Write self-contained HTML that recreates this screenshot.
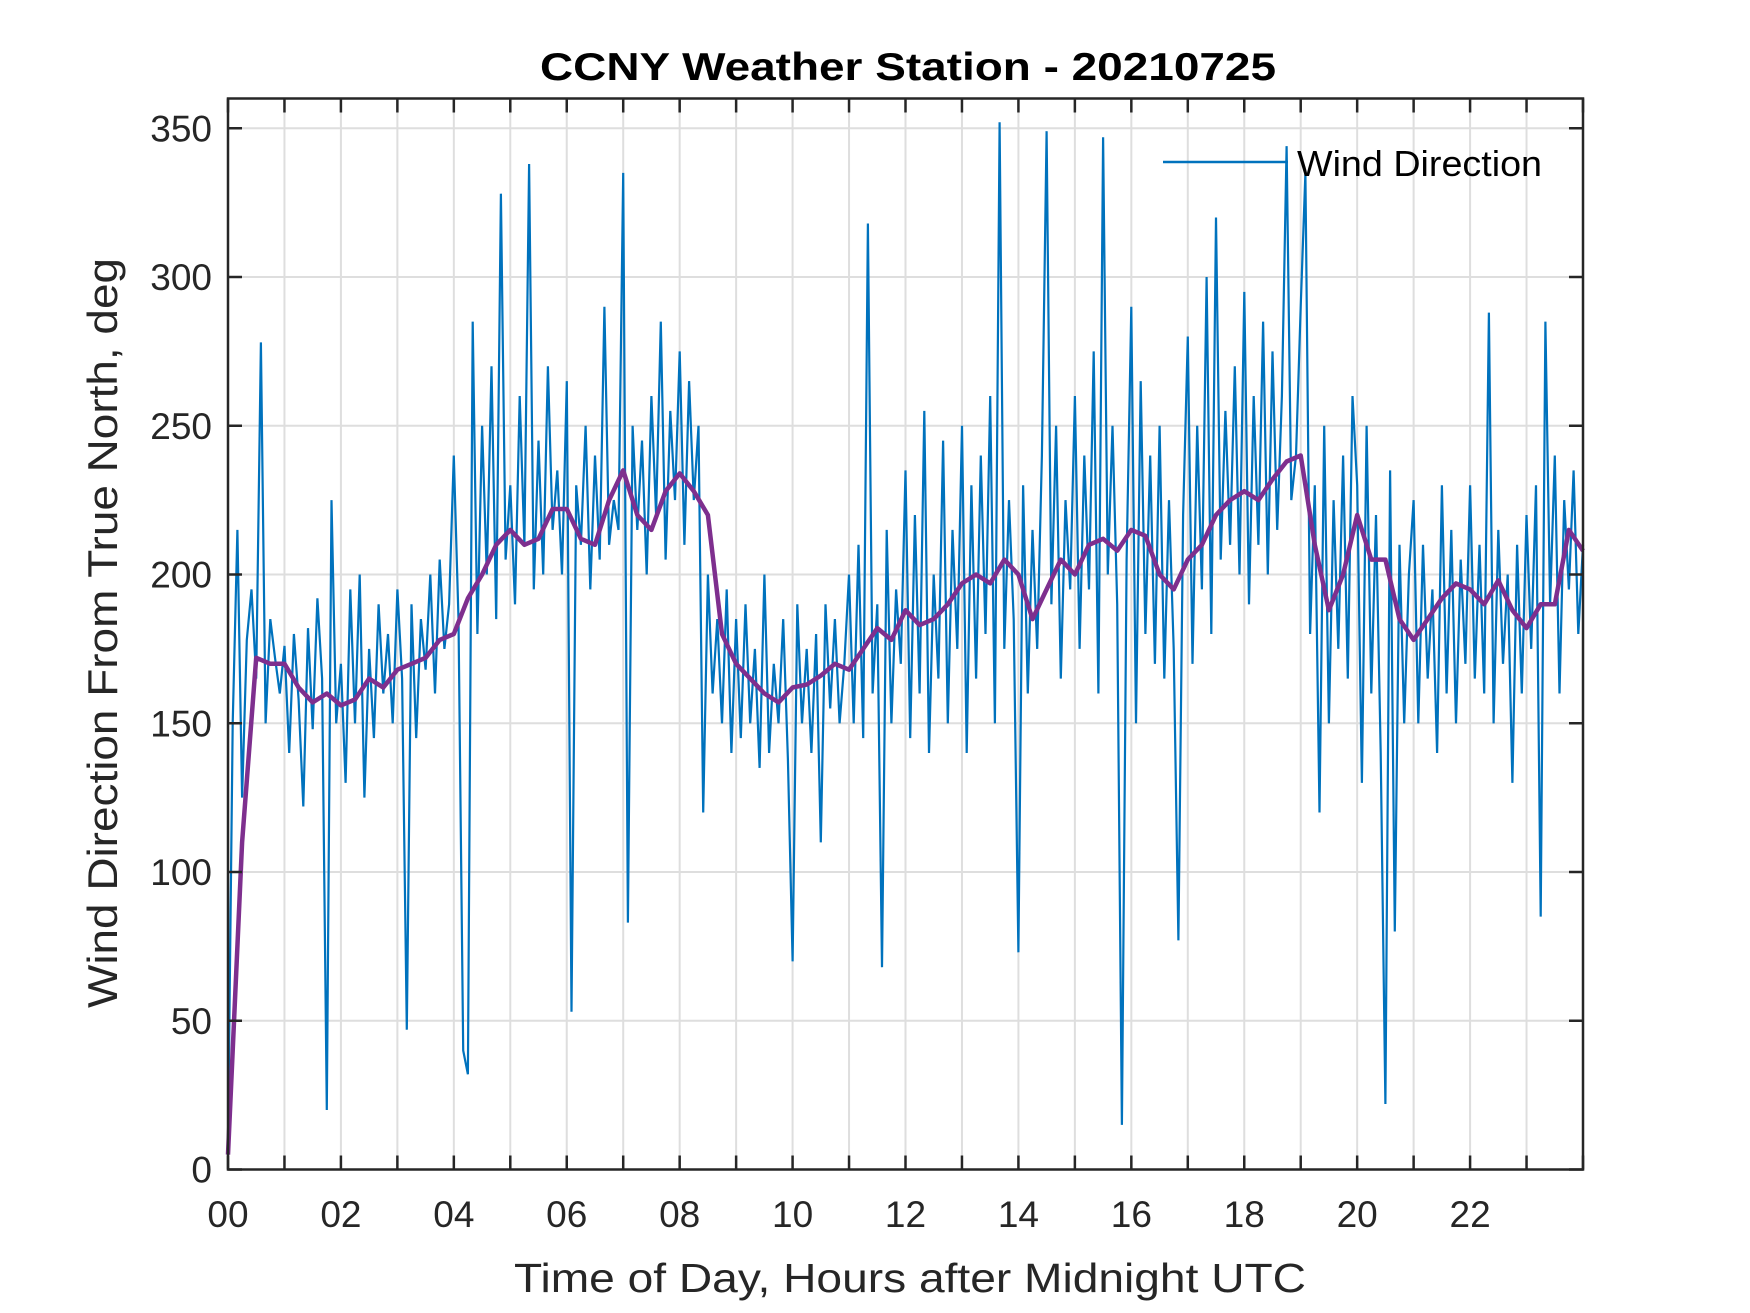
<!DOCTYPE html>
<html><head><meta charset="utf-8"><style>
html,body{margin:0;padding:0;background:#fff;}
svg{display:block;font-family:"Liberation Sans",Arial,sans-serif;}
</style></head><body>
<svg id="chart" width="1750" height="1313" viewBox="0 0 1750 1313" xmlns="http://www.w3.org/2000/svg">
<rect width="1750" height="1313" fill="#fff"/>
<g id="grid"></g>
<g id="series"></g>
<g id="axes"></g>
<text x="908" y="80" text-anchor="middle" font-size="39" font-weight="bold" fill="#000" textLength="736" lengthAdjust="spacingAndGlyphs">CCNY Weather Station - 20210725</text>
<text x="910" y="1292" text-anchor="middle" font-size="41" fill="#262626" textLength="792" lengthAdjust="spacingAndGlyphs">Time of Day, Hours after Midnight UTC</text>
<text transform="translate(117,633) rotate(-90)" text-anchor="middle" font-size="42" fill="#262626" textLength="750" lengthAdjust="spacingAndGlyphs">Wind Direction From True North, deg</text>
<g>
<line x1="1163" y1="162" x2="1288" y2="162" stroke="#0072BD" stroke-width="2.5"/>
<text x="1297" y="176" font-size="36" fill="#000" textLength="245" lengthAdjust="spacingAndGlyphs">Wind Direction</text>
</g>
</svg>
<script>
const xTicks = [0,1,2,3,4,5,6,7,8,9,10,11,12,13,14,15,16,17,18,19,20,21,22,23,24];
const xTickLabels = ["00","","02","","04","","06","","08","","10","","12","","14","","16","","18","","20","","22","",""];
const yTicks = [0,50,100,150,200,250,300,350];
const yTickLabels = ["0","50","100","150","200","250","300","350"];
// wind direction every 5 minutes (deg)
const windDir = [
8,150,215,125,178,195,165,278,150,185,172,160,
176,140,180,158,122,182,148,192,165,20,225,150,
170,130,195,150,200,125,175,145,190,160,180,150,
195,165,47,190,145,185,168,200,160,205,175,190,
240,185,40,32,285,180,250,200,270,185,328,205,
230,190,260,210,338,195,245,200,270,215,235,200,
265,53,230,210,250,195,240,205,290,210,225,215,
335,83,250,215,245,200,260,220,285,205,255,225,
275,210,265,225,250,120,200,160,185,150,195,140,
185,145,190,150,175,135,200,140,170,150,185,138,
70,190,150,175,140,180,110,190,155,185,150,170,
200,150,210,145,318,160,190,68,215,150,195,170,
235,145,220,160,255,140,200,165,245,150,215,175,
250,140,230,165,240,180,260,150,352,175,225,185,
73,230,160,215,175,240,349,190,250,165,225,195,
260,175,240,195,275,160,347,200,250,190,15,205,
290,150,265,180,240,170,250,165,225,175,77,220,
280,170,250,195,300,180,320,205,255,210,270,200,
295,190,260,210,285,200,275,215,260,344,225,240,
290,335,180,230,120,250,150,225,175,240,165,260,
230,130,250,160,220,140,22,235,80,210,150,200,
225,150,210,165,195,140,230,160,215,150,205,170,
230,165,210,160,288,150,215,170,200,130,210,160,
220,175,230,85,285,190,240,160,225,195,235,180,
210];
// running mean every 15 minutes (deg)
const windMean = [
5,110,172,170,170,162,157,160,156,158,165,162,
168,170,172,178,180,192,200,210,215,210,212,222,
222,212,210,225,235,220,215,228,234,228,220,180,
170,165,160,157,162,163,166,170,168,175,182,178,
188,183,185,190,197,200,197,205,200,185,195,205,
200,210,212,208,215,213,200,195,205,210,220,225,
228,225,232,238,240,210,188,200,220,205,205,185,
178,185,192,197,195,190,198,188,182,190,190,215,208];

const L=228, R=1583, T=98.5, B=1169.5;
const xMin=0, xMax=24, yMin=0, yMax=360;
const sx = v => L + (v-xMin)/(xMax-xMin)*(R-L);
const sy = v => B - (v-yMin)/(yMax-yMin)*(B-T);
const NS="http://www.w3.org/2000/svg";
function mk(tag, attrs, parent){const e=document.createElementNS(NS,tag);for(const k in attrs)e.setAttribute(k,attrs[k]);parent.appendChild(e);return e;}
const grid=document.getElementById('grid'), axes=document.getElementById('axes'), series=document.getElementById('series');

xTicks.forEach((t,i)=>{
  const x=sx(t);
  if(t>xMin && t<xMax){
    const g=mk('line',{x1:x,y1:T,x2:x,y2:B,stroke:'#dedede','stroke-width':2},grid);
    
    
  }
  const a=mk('line',{x1:x,y1:B,x2:x,y2:B-14,stroke:'#262626','stroke-width':2.5},axes);
  
  
  const b=mk('line',{x1:x,y1:T,x2:x,y2:T+14,stroke:'#262626','stroke-width':2.5},axes);
  
  
  if(xTickLabels[i]){
    const tx=mk('text',{x:x,y:1227,'text-anchor':'middle','font-size':37,fill:'#262626'},axes);
    tx.textContent=xTickLabels[i];
    
    
  }
});
yTicks.forEach((t,i)=>{
  const y=sy(t);
  if(t>yMin){
    const g=mk('line',{x1:L,y1:y,x2:R,y2:y,stroke:'#dedede','stroke-width':2},grid);
    
    
  }
  const a=mk('line',{x1:L,y1:y,x2:L+14,y2:y,stroke:'#262626','stroke-width':2.5},axes);
  
  
  const b=mk('line',{x1:R,y1:y,x2:R-14,y2:y,stroke:'#262626','stroke-width':2.5},axes);
  
  
  const tx=mk('text',{x:L-16,y:y+13,'text-anchor':'end','font-size':37,fill:'#262626'},axes);
  tx.textContent=yTickLabels[i];
  
  
});
const box=mk('rect',{x:L,y:T,width:R-L,height:B-T,fill:'none',stroke:'#262626','stroke-width':2.5},axes);



const n=windDir.length;
const pts=windDir.map((v,i)=>sx(i*24/(n-1)).toFixed(1)+','+sy(v).toFixed(1)).join(' ');
const blue=mk('polyline',{points:pts,fill:'none',stroke:'#0072BD','stroke-width':2.2,'stroke-linejoin':'miter'},series);


const m=windMean.length;
const mpts=windMean.map((v,i)=>sx(i*24/(m-1)).toFixed(1)+','+sy(v).toFixed(1)).join(' ');
const purple=mk('polyline',{points:mpts,fill:'none',stroke:'#7E2F8E','stroke-width':4.5,'stroke-linejoin':'round'},series);


</script>
</body></html>
